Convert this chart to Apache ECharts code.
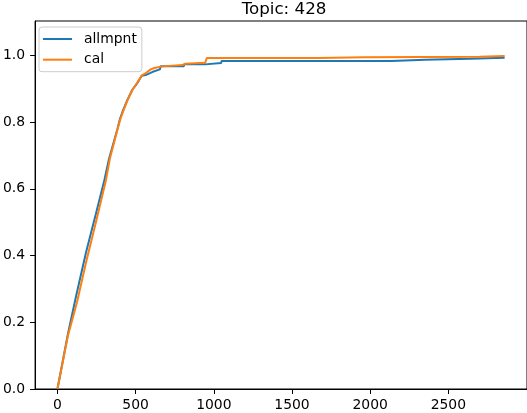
<!DOCTYPE html>
<html>
<head>
<meta charset="utf-8">
<script src="https://cdn.jsdelivr.net/npm/echarts@6/dist/echarts.min.js"></script>
<style>
  html, body { margin: 0; padding: 0; background: #fff; }
  #chart { width: 527px; height: 413px; }
</style>
</head>
<body>
<div id="chart"></div>
<script>
// values
var titleText = 'Topic: 428';
var seriesNames = ['allmpnt', 'cal'];

var allmpntX = [0, 67, 120, 183, 246, 300, 330, 384, 400, 416, 448, 479, 511, 539, 564, 575, 606, 655, 660, 808, 810, 945, 947, 1047, 1049, 2136, 2138, 2352, 2354, 2640, 2642, 2860];
var allmpntY = [0, 0.165, 0.28, 0.41, 0.525, 0.626, 0.69, 0.78, 0.81, 0.831, 0.867, 0.897, 0.917, 0.939, 0.941, 0.945, 0.95, 0.958, 0.967, 0.967, 0.973, 0.973, 0.977, 0.977, 0.983, 0.983, 0.987, 0.987, 0.99, 0.99, 0.993, 0.993];

var calX = [0, 67, 125, 183, 246, 310, 335, 385, 403, 420, 450, 480, 510, 540, 560, 596, 620, 670, 800, 818, 945, 955, 1668, 1670, 1962, 1964, 2700, 2702, 2860];
var calY = [0, 0.16, 0.26, 0.38, 0.5, 0.626, 0.69, 0.78, 0.81, 0.832, 0.868, 0.897, 0.918, 0.94, 0.945, 0.958, 0.962, 0.967, 0.971, 0.975, 0.978, 0.992, 0.992, 0.994, 0.994, 0.996, 0.996, 0.998, 0.998];

var xTicks = [0, 500, 1000, 1500, 2000, 2500];
var yTicks = [0, 0.2, 0.4, 0.6, 0.8, 1.0];

function pairs(xs, ys) {
    var out = [];
    for (var i = 0; i < xs.length; i++) {
        out.push([xs[i], ys[i]]);
    }
    return out;
}

var font = 'DejaVu Sans';
var chart = echarts.init(document.getElementById('chart'), null, { renderer: 'canvas' });

var option = {
    animation: false,
    backgroundColor: '#ffffff',
    title: {
        text: titleText,
        left: 279,
        top: -4,
        textAlign: 'center',
        textStyle: { fontFamily: font, fontSize: 16.7, fontWeight: 'normal', color: '#000' }
    },
    legend: {
        data: seriesNames,
        orient: 'vertical',
        left: 39,
        top: 27,
        padding: [4, 5, 4, 4],
        itemGap: 4.7,
        itemWidth: 29,
        itemHeight: 2,
        icon: 'rect',
        borderColor: '#cccccc',
        borderWidth: 1,
        borderRadius: 3,
        backgroundColor: 'rgba(255,255,255,0.8)',
        textStyle: { fontFamily: font, fontSize: 13.9, color: '#000', lineHeight: 16, padding: [0, 0, 0, 7] }
    },
    grid: {
        left: 32,
        top: 21,
        width: 497,
        height: 368,
        show: true,
        borderColor: '#000',
        borderWidth: 1,
        backgroundColor: 'transparent'
    },
    xAxis: {
        type: 'value',
        min: -143,
        max: 3003,
        axisLine: { show: true, onZero: false, lineStyle: { color: '#000', width: 1 } },
        axisTick: { show: true, length: 5, lineStyle: { color: '#000' }, customValues: xTicks },
        axisLabel: {
            margin: 9, color: '#000', fontFamily: font, fontSize: 13.9, customValues: xTicks,
            formatter: function (v) { return String(v); }
        },
        splitLine: { show: false }
    },
    yAxis: {
        type: 'value',
        min: 0,
        max: 1.103,
        axisLine: { show: true, onZero: false, lineStyle: { color: '#000', width: 1 } },
        axisTick: { show: true, length: 5, lineStyle: { color: '#000' }, customValues: yTicks },
        axisLabel: {
            margin: 10, color: '#000', fontFamily: font, fontSize: 13.9, customValues: yTicks,
            formatter: function (v) { return v.toFixed(1); }
        },
        splitLine: { show: false }
    },
    series: [{
        name: seriesNames[0],
        type: 'line',
        data: pairs(allmpntX, allmpntY),
        showSymbol: false,
        color: '#1f77b4',
        lineStyle: { width: 2, color: '#1f77b4' }
    }, {
        name: seriesNames[1],
        type: 'line',
        data: pairs(calX, calY),
        showSymbol: false,
        color: '#ff7f0e',
        lineStyle: { width: 2, color: '#ff7f0e' }
    }]
};

chart.setOption(option);
</script>
</body>
</html>
